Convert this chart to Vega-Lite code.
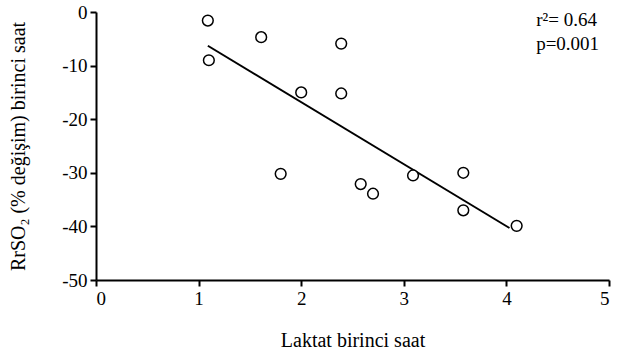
{
  "$schema": "https://vega.github.io/schema/vega-lite/v6.json",
  "width": 513,
  "height": 268,
  "autosize": {"type": "none"},
  "padding": {"left": 96, "top": 12, "right": 13, "bottom": 75},
  "background": "white",
  "config": {
    "view": {"stroke": null},
    "font": "Liberation Serif",
    "axis": {
      "grid": false,
      "domainColor": "black",
      "domainWidth": 2,
      "tickColor": "black",
      "tickWidth": 2,
      "tickSize": 6,
      "labelColor": "black",
      "titleFontWeight": "normal",
      "titleColor": "black"
    }
  },
  "datasets": {
    "points": [
      {"laktat": 1.09, "rrso2": -1.6},
      {"laktat": 1.10, "rrso2": -9.0},
      {"laktat": 1.61, "rrso2": -4.7},
      {"laktat": 1.80, "rrso2": -30.2},
      {"laktat": 2.00, "rrso2": -15.0},
      {"laktat": 2.39, "rrso2": -5.9},
      {"laktat": 2.39, "rrso2": -15.2},
      {"laktat": 2.58, "rrso2": -32.1},
      {"laktat": 2.70, "rrso2": -33.9},
      {"laktat": 3.09, "rrso2": -30.5},
      {"laktat": 3.58, "rrso2": -30.0},
      {"laktat": 3.58, "rrso2": -37.0},
      {"laktat": 4.10, "rrso2": -39.9}
    ],
    "fit": [
      {"laktat": 1.09, "rrso2": -6.3},
      {"laktat": 4.03, "rrso2": -40.3}
    ],
    "labels": [
      {"laktat": 4.29, "rrso2": -1.4, "text": "r²= 0.64"},
      {"laktat": 4.29, "rrso2": -5.9, "text": "p=0.001"}
    ]
  },
  "layer": [
    {
      "data": {"name": "fit"},
      "mark": {"type": "line", "color": "black", "strokeWidth": 2},
      "encoding": {
        "x": {"field": "laktat", "type": "quantitative", "scale": {"domain": [0, 5], "nice": false}, "axis": {"values": [0, 1, 2, 3, 4, 5], "labelExpr": "'' + datum.value", "labelFont": "Liberation Serif", "labelFontSize": 19, "titleFont": "Liberation Serif", "titleFontSize": 20, "title": "Laktat birinci saat", "titlePadding": 22, "labelPadding": 3}},
        "y": {"field": "rrso2", "type": "quantitative", "scale": {"domain": [-50, 0], "nice": false}, "axis": {"values": [0, -10, -20, -30, -40, -50], "labelExpr": "'' + datum.value", "labelFont": "Liberation Serif", "labelFontSize": 19, "titleFont": "Liberation Serif", "titleFontSize": 20, "title": "RrSO₂ (% değişim) birinci saat", "titlePadding": 33, "labelPadding": 3}}
      }
    },
    {
      "data": {"name": "points"},
      "mark": {"type": "point", "shape": "circle", "size": 115, "filled": false, "fill": "white", "fillOpacity": 1, "stroke": "black", "strokeWidth": 1.5, "opacity": 1},
      "encoding": {
        "x": {"field": "laktat", "type": "quantitative"},
        "y": {"field": "rrso2", "type": "quantitative"}
      }
    },
    {
      "data": {"name": "labels"},
      "mark": {"type": "text", "align": "left", "baseline": "middle", "fontSize": 19, "font": "Liberation Serif", "color": "black"},
      "encoding": {
        "x": {"field": "laktat", "type": "quantitative"},
        "y": {"field": "rrso2", "type": "quantitative"},
        "text": {"field": "text"}
      }
    }
  ]
}
